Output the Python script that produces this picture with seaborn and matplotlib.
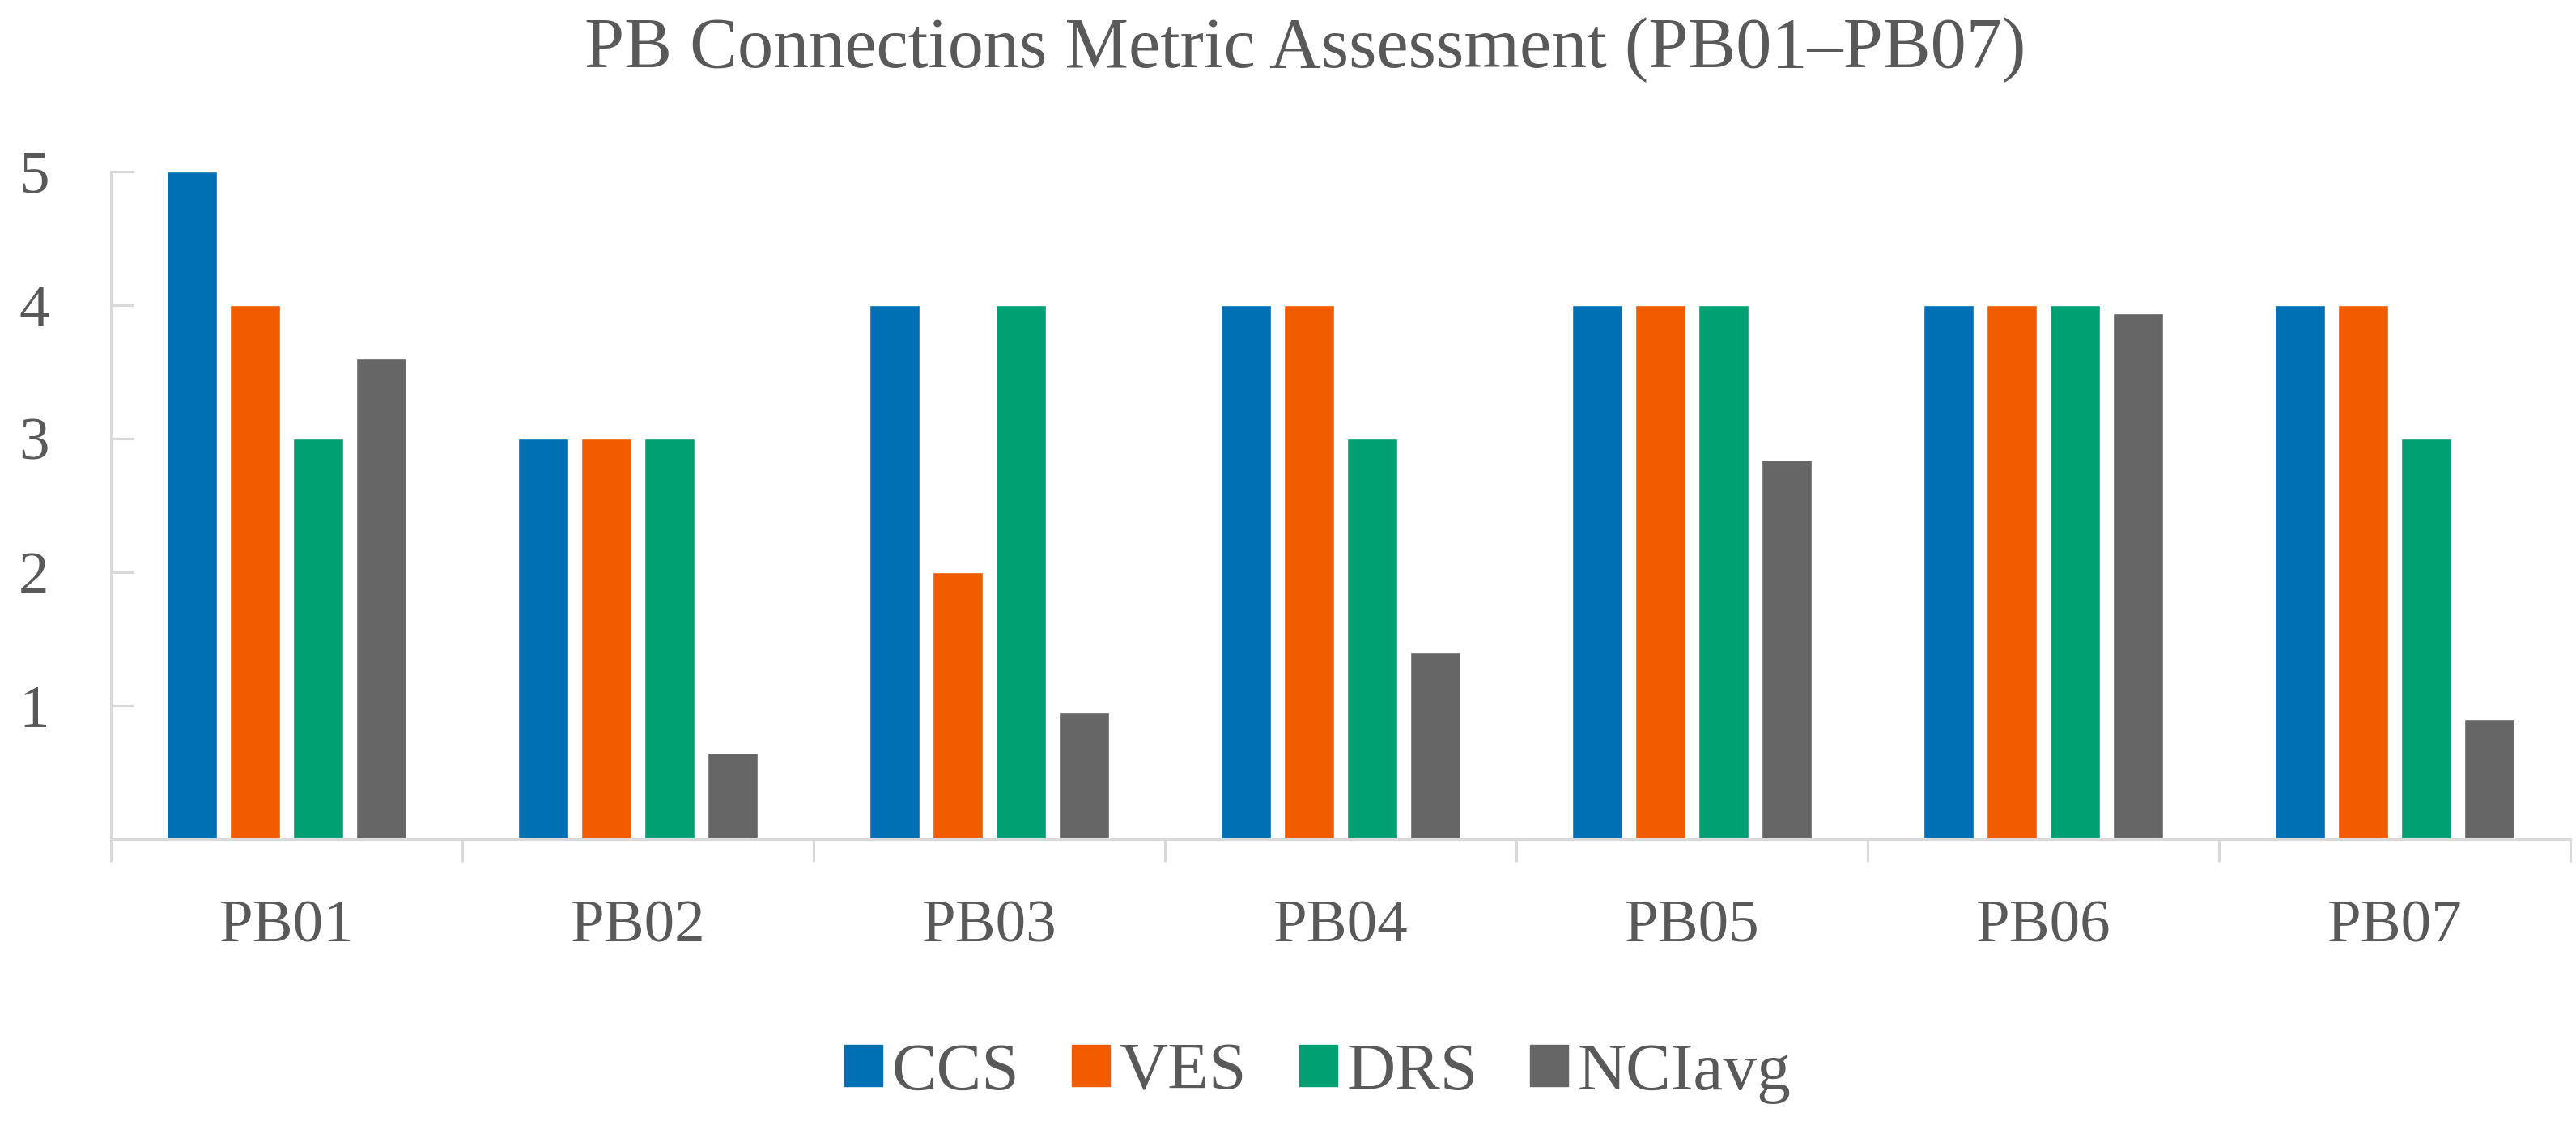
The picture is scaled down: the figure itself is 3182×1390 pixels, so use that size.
import numpy as np
import pandas as pd
import matplotlib
matplotlib.use("Agg")
import matplotlib.pyplot as plt
import seaborn as sns

projects = ["PB01", "PB02", "PB03", "PB04", "PB05", "PB06", "PB07"]
ccs = [5, 3, 4, 4, 4, 4, 4]
ves = [4, 3, 2, 4, 4, 4, 4]
drs = [3, 3, 4, 3, 4, 4, 3]
nci_avg = [3.6, 0.65, 0.95, 1.4, 2.84, 3.94, 0.9]
metrics = ["CCS", "VES", "DRS", "NCIavg"]
y_ticks = [1, 2, 3, 4, 5]
title = "PB Connections Metric Assessment (PB01\u2013PB07)"

colors = ["#0070B4", "#F25C00", "#00A072", "#666666"]
text_color = "#595959"
axis_color = "#D9D9D9"

df = pd.DataFrame({
    "Project": projects * 4,
    "Metric": sum([[m] * len(projects) for m in metrics], []),
    "Score": ccs + ves + drs + nci_avg,
})

sns.set_theme(style="white")
plt.rcParams["font.family"] = ["Liberation Serif", "DejaVu Serif"]

W, H = 3182, 1390
fig = plt.figure(figsize=(W / 100, H / 100), dpi=100)
ax = fig.add_axes([137 / W, 1 - 1037 / H, (3175 - 137) / W, (1037 - 212) / H])

sns.barplot(data=df, x="Project", y="Score", hue="Metric", hue_order=metrics,
            order=projects, palette=colors, saturation=1, width=0.72, gap=0.2,
            ax=ax, errorbar=None)

ax.set_xlim(-0.5, len(projects) - 0.5)
ax.set_ylim(0, 5)
ax.set_xlabel("")
ax.set_ylabel("")

for s in ["top", "right"]:
    ax.spines[s].set_visible(False)
for s in ["left", "bottom"]:
    ax.spines[s].set_color(axis_color)
    ax.spines[s].set_linewidth(2.3)

fs = 54
ax.set_yticks(y_ticks)
ax.set_yticklabels([str(t) for t in y_ticks])
ax.tick_params(axis="y", direction="in", length=20, width=2.3, color=axis_color,
               labelsize=fs, labelcolor=text_color, pad=55, left=True)
ax.set_xticks(range(len(projects)))
ax.set_xticklabels(projects)
ax.set_xticks(np.arange(-0.5, len(projects), 1.0), minor=True)
ax.tick_params(axis="x", which="major", length=0, labelsize=fs, labelcolor=text_color, pad=54)
ax.tick_params(axis="x", which="minor", direction="out", length=20, width=2.3,
               color=axis_color, bottom=True)

leg = ax.get_legend()
if leg is not None:
    leg.remove()
handles = [plt.Rectangle((0, 0), 1, 1, color=c) for c in colors]
fig.legend(handles, metrics, loc="center", bbox_to_anchor=(1628 / W, 1 - 1326 / H),
           ncol=4, frameon=False, fontsize=60, labelcolor=text_color,
           handlelength=0.56, handleheight=0.56, handletextpad=0.14,
           columnspacing=0.78, borderaxespad=0, borderpad=0)

fig.text(1612 / W, 1 - 83 / H, title, ha="center", va="baseline",
         fontsize=63.5, color=text_color)

fig.savefig("out.png", dpi=100, facecolor="white")
